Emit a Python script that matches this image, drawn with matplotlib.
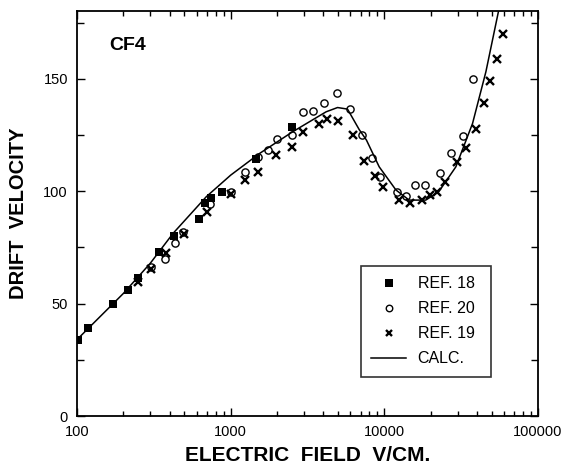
import matplotlib
matplotlib.use("Agg")
import matplotlib.pyplot as plt
from matplotlib.ticker import LogLocator, NullFormatter, FixedLocator

plt.rcParams['font.family'] = ['Liberation Sans', 'DejaVu Sans']

ref18_x = [102, 118, 172, 215, 248, 342, 428, 620, 685, 750, 883, 1470, 2490]
ref18_y = [33.8, 39.2, 49.7, 56.0, 61.6, 72.8, 80.2, 87.6, 94.6, 97.1, 99.8, 114.2, 128.7]

ref20_x = [301, 372, 433, 490, 730, 1000, 1243, 1505, 1740, 1995, 2495, 2965, 3415,
           4035, 4885, 5975, 7160, 8290, 9440, 12060, 13760, 15900, 18480, 22970,
           27100, 32300, 38000]
ref20_y = [66.4, 69.7, 76.8, 82.0, 94.2, 99.8, 108.4, 115.4, 118.3, 123.2, 125.0, 135.1,
           135.7, 139.4, 143.6, 136.5, 125.0, 115.0, 106.2, 99.8, 97.9, 102.8, 102.8,
           108.3, 116.9, 124.7, 150.0]

ref19_x = [250, 301, 379, 497, 705, 1010, 1243, 1505, 1980, 2495, 2965, 3740, 4230, 5020,
           6210, 7400, 8720, 9860, 12550, 14700, 17500, 19700, 22000, 24900, 29900,
           34200, 39600, 44700, 49000, 54000, 59000]
ref19_y = [59.8, 65.4, 72.4, 80.8, 90.9, 98.8, 105.0, 108.7, 116.1, 119.8, 126.5, 129.8,
           132.1, 131.2, 125.0, 113.5, 107.0, 102.0, 96.1, 94.6, 96.1, 98.3, 99.8, 104.0,
           112.9, 119.1, 127.7, 139.4, 149.2, 159.1, 170.0]

calc_x = [100, 200, 300, 422, 694, 1000, 1545, 2530, 4180, 4960, 5760, 6860, 7650, 9260,
          11900, 14500, 18600, 22600, 29200, 37500, 45800, 55500, 60000]
calc_y = [34, 54.5, 68, 81.3, 97.6, 107.2, 116.9, 126.5, 135.4, 137.3, 136.6, 127.5, 122.8,
          110.9, 100.6, 96.1, 96.1, 99.8, 110.9, 130.2, 153.2, 180.6, 194]

labels = ["REF. 18", "REF. 20", "REF. 19", "CALC."]
xtick_vals = [100, 1000, 10000, 100000]
xtick_labels = ['100', '1000', '10000', '100000']
ytick_vals = [0, 50, 100, 150]

fig = plt.figure(figsize=(5.69, 4.66), dpi=100)
ax = fig.add_axes([77/569, 1 - 416/466, 461/569, (416 - 10.7)/466])

ax.plot(ref18_x, ref18_y, linestyle='none', marker='s', ms=5.8, color='black',
        markeredgewidth=0, label=labels[0])
ax.plot(ref20_x, ref20_y, linestyle='none', marker='o', ms=5.2, mfc='none', mec='black',
        markeredgewidth=1.0, label=labels[1])
ax.plot(ref19_x, ref19_y, linestyle='none', marker='x', ms=5.2, color='black',
        markeredgewidth=1.7, label=labels[2])
ax.plot(calc_x, calc_y, color='black', lw=1.1, label=labels[3])

ax.set_xscale('log')
ax.set_xlim(100, 100000)
ax.set_ylim(0, 180.4)

ax.xaxis.set_major_locator(FixedLocator(xtick_vals))
ax.xaxis.set_minor_locator(LogLocator(base=10, subs=range(2, 10)))
ax.xaxis.set_minor_formatter(NullFormatter())
ax.set_xticklabels(xtick_labels)
ax.yaxis.set_major_locator(FixedLocator(ytick_vals))
ax.yaxis.set_minor_locator(FixedLocator([25, 75, 125, 175]))

ax.tick_params(which='both', direction='in', top=True, right=True, width=1.0, colors='black')
ax.tick_params(which='major', length=5.5, labelsize=10.5, pad=6.5)
ax.tick_params(which='minor', length=3.5)
ax.tick_params(axis='y', which='minor', length=5)

for s in ax.spines.values():
    s.set_linewidth(1.3)

ax.set_xlabel("ELECTRIC  FIELD  V/CM.", fontsize=15, fontweight='bold', labelpad=5)
ax.set_ylabel("DRIFT  VELOCITY", fontsize=14.5, fontweight='bold', labelpad=11)

ax.text(0.069, 0.913, "CF4", transform=ax.transAxes, fontsize=14, fontweight='bold',
        ha='left', va='center')

leg = ax.legend(loc='upper left', bbox_to_anchor=(0.616, 0.101, 0.282, 0.269),
                mode='expand', borderaxespad=0, fancybox=False, frameon=True,
                fontsize=11.5, handlelength=2.2, handletextpad=0.7, borderpad=0.65,
                labelspacing=0.62, numpoints=1, markerscale=0.9)
leg.get_frame().set_edgecolor('black')
leg.get_frame().set_linewidth(1.2)

fig.savefig("out.png", dpi=100)
